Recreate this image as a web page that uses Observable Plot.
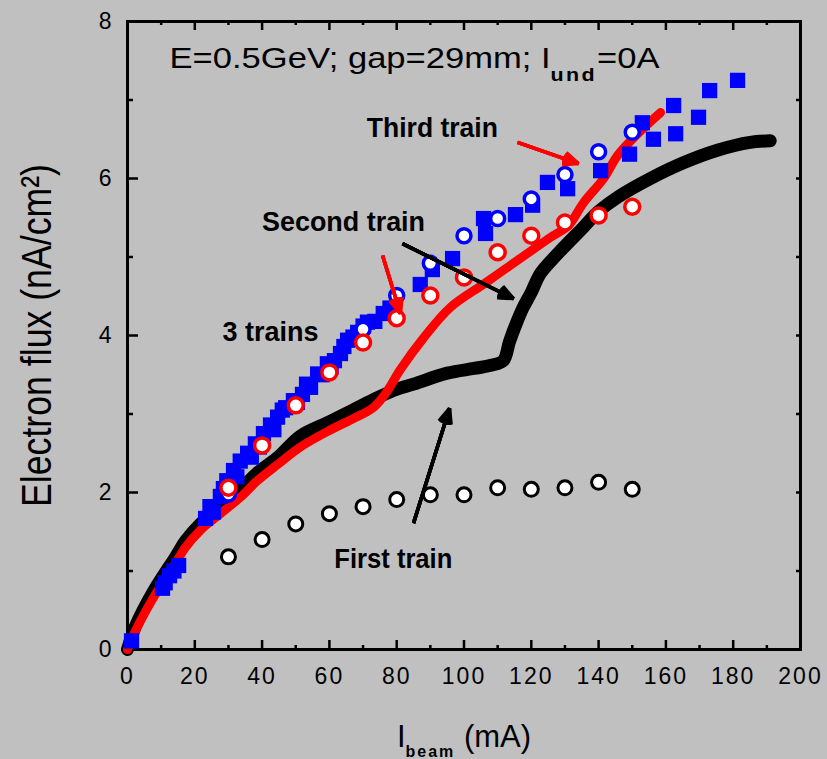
<!DOCTYPE html>
<html><head><meta charset="utf-8">
<script src="https://cdn.jsdelivr.net/npm/d3@7"></script>
<script src="https://cdn.jsdelivr.net/npm/@observablehq/plot@0.6"></script>
<style>
html,body{margin:0;padding:0;background:#c0c0c0;}
#chart svg{display:block;}
</style></head><body><div id="chart"></div>
<script>
// ---- axes ----
const xTicks = [0, 20, 40, 60, 80, 100, 120, 140, 160, 180, 200];
const xMinor = [10, 30, 50, 70, 90, 110, 130, 150, 170, 190];
const yTicks = [0, 2, 4, 6, 8];
const yMinor = [1, 3, 5, 7];

// ---- black thick curve ----
const blackX = [0, 2.4, 7.7, 14.3, 17.2, 21.7, 27.6, 33.6, 38.6, 45, 51.4, 60, 67, 73, 79, 85, 95, 103, 108, 111.7, 113.5, 115.5, 117.5, 120, 122.7, 127.8, 135.5, 140, 145.6, 155.4, 165.2, 175.3, 185, 191];
const blackY = [0, 0.3, 0.74, 1.18, 1.38, 1.6, 1.82, 2.04, 2.25, 2.46, 2.72, 2.9, 3.05, 3.18, 3.3, 3.38, 3.52, 3.58, 3.62, 3.68, 3.92, 4.15, 4.35, 4.55, 4.79, 5.04, 5.38, 5.58, 5.76, 6.0, 6.2, 6.36, 6.46, 6.48];

// ---- red thick curve ----
const redX = [0, 2.4, 7.7, 14.3, 17.2, 21.7, 27.6, 33.6, 38.6, 45, 51.4, 60, 67, 73, 77, 81, 88, 96, 106, 116, 125.7, 131, 135.5, 141.5, 145.6, 151.6, 158.4];
const redY = [0, 0.24, 0.66, 1.1, 1.3, 1.52, 1.73, 1.94, 2.15, 2.37, 2.58, 2.79, 2.94, 3.08, 3.28, 3.56, 3.97, 4.36, 4.66, 4.96, 5.25, 5.4, 5.69, 6.0, 6.29, 6.57, 6.84];

// ---- blue filled squares (3 trains) ----
const sqX = [1.2, 10.4, 11.2, 12.5, 13.8, 15.2, 23.2, 24.5, 25.5, 27.6, 28.5, 29.5, 31.5, 32.5, 33.5, 35.7, 36.8, 38, 39.2, 40.4, 42.5, 43.5, 44.6, 46, 47, 49.3, 50.5, 52, 53.2, 54.4, 56.5, 57.8, 59.4, 60.5, 61.5, 63.3, 64.3, 65.4, 67, 68.4, 70, 71.3, 73.5, 76, 78, 87, 90.6, 96.6, 105.8, 106.4, 115.3, 120.4, 124.8, 130.8, 140.6, 149.2, 153, 156.3, 162.3, 162.9, 169.7, 173, 181.3];
const sqY = [0.11, 0.78, 0.85, 0.94, 1.0, 1.07, 1.67, 1.82, 1.75, 1.95, 2.05, 2.15, 2.28, 2.2, 2.4, 2.5, 2.45, 2.62, 2.58, 2.75, 2.86, 2.8, 2.96, 3.05, 3.08, 3.17, 3.15, 3.25, 3.38, 3.34, 3.51, 3.5, 3.64, 3.6, 3.68, 3.77, 3.86, 3.94, 3.98, 4.04, 4.12, 4.17, 4.18, 4.28, 4.35, 4.65, 4.84, 4.98, 5.49, 5.3, 5.54, 5.66, 5.95, 5.87, 6.1, 6.31, 6.71, 6.5, 6.93, 6.57, 6.78, 7.12, 7.25];

// ---- blue open circles ----
const blueCX = [30, 70, 80, 90, 100, 110, 120, 130, 140, 150];
const blueCY = [1.98, 4.08, 4.51, 4.92, 5.27, 5.49, 5.74, 6.05, 6.34, 6.59];

// ---- red open circles ----
const redCX = [30, 40, 50, 60, 70, 80, 90, 100, 110, 120, 130, 140, 150];
const redCY = [2.06, 2.6, 3.11, 3.53, 3.91, 4.22, 4.51, 4.74, 5.06, 5.27, 5.44, 5.53, 5.64];

// ---- black open circles (first train) ----
const blkCX = [30, 40, 50, 60, 70, 80, 90, 100, 110, 120, 130, 140, 150];
const blkCY = [1.18, 1.4, 1.6, 1.73, 1.82, 1.91, 1.97, 1.97, 2.06, 2.04, 2.06, 2.13, 2.04];

// ---- annotations ----
const labelText = ["Third train", "Second train", "3 trains", "First train"];
const labelX = [90.6, 64.2, 42.5, 79];
const labelY = [6.64, 5.44, 4.05, 1.15];
const headerText = "E=0.5GeV; gap=29mm; I_{und}=0A";
const headerX = 12.5, headerY = 7.53;
const arrowColor = ["red", "black", "red", "black"];
const arrowX1 = [115.9, 81.7, 75.8, 85];
const arrowY1 = [6.46, 5.17, 5.02, 1.61];
const arrowX2 = [134, 114.7, 81.1, 95.7];
const arrowY2 = [6.19, 4.47, 4.28, 3.07];

const xTitle = "I_{beam} (mA)";
const yTitle = "Electron flux (nA/cm²)";

// build tables
const pts = (xs, ys) => xs.map((x, i) => ({x, y: ys[i]}));
const blackLine = pts(blackX, blackY);
const redLine = pts(redX, redY);
const squares = pts(sqX, sqY);
const blueCircles = pts(blueCX, blueCY);
const redCircles = pts(redCX, redCY);
const blkCircles = pts(blkCX, blkCY);
const labels = labelText.map((t, i) => ({t, x: labelX[i], y: labelY[i]}));
const arrows = arrowColor.map((c, i) => ({c, x1: arrowX1[i], y1: arrowY1[i], x2: arrowX2[i], y2: arrowY2[i]}));

const FW = 673, FH = 628; // frame size in px (style)

const arrowMarks = [8, 20, 32, 46].map(a => Plot.arrow(arrows, {
  x1: "x1", y1: "y1", x2: "x2", y2: "y2", stroke: d => d.c, strokeWidth: 3.5,
  headAngle: a, headLength: 7, strokeLinecap: "butt"
}));

const chart = Plot.plot({
  width: 827, height: 759,
  marginLeft: 127, marginRight: 27, marginTop: 21, marginBottom: 110,
  x: {domain: [0, 200]},
  y: {domain: [0, 8]},
  color: {type: "identity"},
  style: {background: "#c0c0c0", fontFamily: "'Liberation Sans', Arial, sans-serif", fontSize: "23px", color: "black", overflow: "visible"},
  marks: [
    Plot.axisX({ticks: xTicks, tickSize: 0, tickPadding: 18, label: null, fontSize: 23}),
    Plot.axisY({ticks: yTicks, tickSize: 0, tickPadding: 14, label: null, fontSize: 23}),
    // inward ticks
    Plot.tickX(xTicks, {x: d => d, insetTop: FH - 9, stroke: "black", strokeWidth: 2.5}),
    Plot.tickX(xMinor, {x: d => d, insetTop: FH - 4, stroke: "black", strokeWidth: 2.5}),
    Plot.tickX(xTicks, {x: d => d, insetBottom: FH - 9, stroke: "black", strokeWidth: 2.5}),
    Plot.tickX(xMinor, {x: d => d, insetBottom: FH - 4, stroke: "black", strokeWidth: 2.5}),
    Plot.tickY(yTicks, {y: d => d, insetRight: FW - 11, stroke: "black", strokeWidth: 2.5}),
    Plot.tickY(yMinor, {y: d => d, insetRight: FW - 6, stroke: "black", strokeWidth: 2.5}),
    Plot.tickY(yTicks.concat(yMinor), {y: d => d, insetLeft: FW - 4, stroke: "black", strokeWidth: 2.5}),
    Plot.frame({stroke: "black", strokeWidth: 3}),
    // curves
    Plot.line(blackLine, {x: "x", y: "y", stroke: "black", strokeWidth: 13, curve: "catmull-rom"}),
    Plot.line(redLine, {x: "x", y: "y", stroke: "#ff0000", strokeWidth: 9, curve: "catmull-rom"}),
    // points
    Plot.dot(squares, {x: "x", y: "y", symbol: "square", r: 8.6, fill: "#0000ff", stroke: "none"}),
    Plot.dot(blkCircles, {x: "x", y: "y", r: 7, fill: "white", stroke: "black", strokeWidth: 3}),
    Plot.dot(blueCircles, {x: "x", y: "y", r: 7, fill: "white", stroke: "#0000ff", strokeWidth: 3.5}),
    Plot.dot(redCircles, {x: "x", y: "y", r: 7.5, fill: "white", stroke: "#ff0000", strokeWidth: 3.5}),
    ...arrowMarks,
    // texts
    Plot.text(labels, {x: "x", y: "y", text: "t", fontSize: 28, fontWeight: "bold", textAnchor: "middle", lineAnchor: "middle", fill: "black"}),
    Plot.text([headerText], {x: () => headerX, y: () => headerY, text: d => d, fontSize: 29, textAnchor: "start", lineAnchor: "middle", fill: "black"}),
    Plot.text([xTitle], {frameAnchor: "bottom", dy: 88, text: d => d, fontSize: 31, textAnchor: "middle", lineAnchor: "middle", fill: "black"}),
    Plot.text([yTitle], {frameAnchor: "left", dx: -90, rotate: -90, text: d => d, fontSize: 42, textAnchor: "middle", lineAnchor: "middle", fill: "black"})
  ]
});

// styling: stretch/compress text to the measured widths, and subscripts
const fitWidth = {"Third train": 131, "Second train": 163, "3 trains": 96, "First train": 118, [yTitle]: 343};
const subStyle = {"E=0.5GeV; gap=29mm; I_{und}=0A": {size: 18, shift: 13, width: 490},
                  "I_{beam} (mA)": {size: 16, shift: 10, width: 0}};
d3.select(chart).selectAll("text").each(function () {
  const s = this.textContent;
  if (fitWidth[s]) {
    this.setAttribute("textLength", fitWidth[s]);
    this.setAttribute("lengthAdjust", "spacingAndGlyphs");
  }
  const st = subStyle[s];
  if (st) {
    this.textContent = "";
    const re = /_\{([^}]*)\}/g;
    let last = 0, m, pendingUp = 0;
    const add = (txt, sub) => {
      const ts = document.createElementNS("http://www.w3.org/2000/svg", "tspan");
      ts.textContent = txt;
      if (sub) {
        ts.setAttribute("font-size", st.size);
        ts.setAttribute("font-weight", "bold");
        ts.setAttribute("dy", st.shift);
        ts.setAttribute("letter-spacing", "2");
      } else if (pendingUp) {
        ts.setAttribute("dy", -pendingUp);
      }
      this.appendChild(ts);
    };
    while ((m = re.exec(s))) {
      if (m.index > last) { add(s.slice(last, m.index), false); pendingUp = 0; }
      add(m[1], true);
      pendingUp = st.shift;
      last = re.lastIndex;
    }
    if (last < s.length) add(s.slice(last), false);
    if (st.width) {
      this.setAttribute("textLength", st.width);
      this.setAttribute("lengthAdjust", "spacingAndGlyphs");
    }
  }
});
d3.select(chart).selectAll("g[aria-label='x-axis tick label'] text, g[aria-label='y-axis tick label'] text").attr("letter-spacing", 2);
document.getElementById("chart").appendChild(chart);
</script>
</body></html>
